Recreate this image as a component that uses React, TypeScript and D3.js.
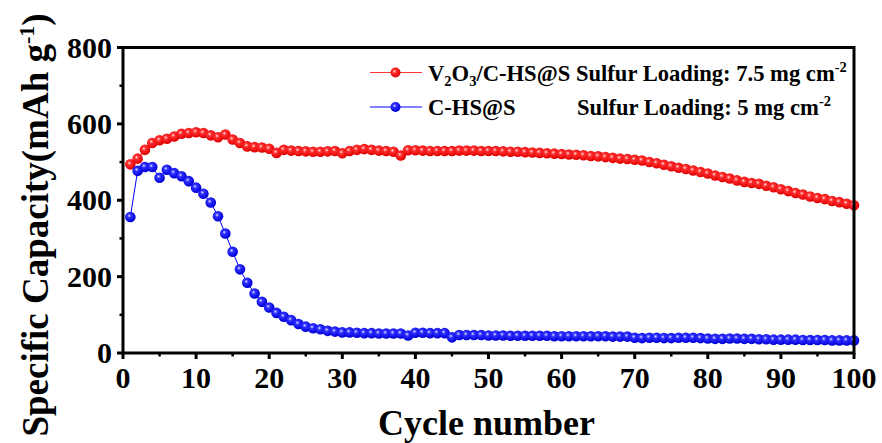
import React from 'react';
import * as d3 from 'd3';

const cycles = d3.range(1, 101);

const v2o3Capacity = [
  494, 509, 532, 550, 557, 561, 567, 574, 576, 578,
  576, 570, 565, 572, 559, 550, 541, 539, 538, 535,
  524, 532, 530, 529, 528, 527, 527, 528, 529, 523,
  529, 532, 534, 532, 530, 529, 527, 517, 531, 531,
  530, 529, 529, 529, 529, 530, 530, 530, 529, 529,
  529, 528, 527, 527, 526, 525, 524, 523, 522, 521,
  520, 519, 518, 516, 515, 513, 511, 509, 508, 506,
  504, 500, 497, 493, 489, 485, 482, 478, 474, 470,
  465, 461, 457, 452, 448, 445, 443, 438, 434, 429,
  424, 419, 415, 410, 406, 403, 398, 395, 391, 387,
];

const chsCapacity = [
  356, 477, 487, 487, 459, 480, 471, 463, 450, 433,
  417, 394, 358, 313, 265, 219, 184, 156, 134, 119,
  105, 95, 86, 76, 69, 65, 62, 58, 56, 54,
  54, 53, 52, 52, 51, 51, 51, 51, 46, 53,
  53, 52, 52, 52, 41, 47, 47, 47, 47, 46,
  46, 46, 45, 45, 45, 45, 45, 45, 44, 44,
  44, 44, 44, 44, 44, 44, 43, 43, 43, 40,
  39, 40, 40, 39, 39, 40, 40, 40, 39, 38,
  37, 37, 38, 38, 37, 37, 36, 36, 35, 35,
  35, 35, 34, 34, 34, 34, 33, 33, 33, 33,
];

const xTicks = [0, 10, 20, 30, 40, 50, 60, 70, 80, 90, 100];
const xMinor = [5, 15, 25, 35, 45, 55, 65, 75, 85, 95];
const yTicks = [0, 200, 400, 600, 800];
const yMinor = [100, 300, 500, 700];

const font = '"Liberation Serif", "Times New Roman", serif';

const App: React.FC = () => {
  const width = 882;
  const height = 443;
  const left = 123;
  const right = 854;
  const top = 47.5;
  const bottom = 353;

  const x = d3.scaleLinear().domain([0, 100]).range([left, right]);
  const y = d3.scaleLinear().domain([0, 800]).range([bottom, top]);

  const line = d3
    .line<number>()
    .x((_, i) => x(cycles[i]))
    .y((d) => y(d));

  const series = [
    { name: 'red', values: v2o3Capacity, color: '#ff0000', grad: 'url(#ballRed)' },
    { name: 'blue', values: chsCapacity, color: '#0000ff', grad: 'url(#ballBlue)' },
  ];

  return (
    <svg
      width={width}
      height={height}
      style={{ position: 'absolute', left: 0, top: 0, background: '#fff' }}
      fontFamily={font}
      fontWeight="bold"
    >
      <defs>
        <radialGradient id="ballRed" cx="40%" cy="38%" r="60%">
          <stop offset="0%" stopColor="#ffe0e0" />
          <stop offset="30%" stopColor="#ff3030" />
          <stop offset="100%" stopColor="#e00000" />
        </radialGradient>
        <radialGradient id="ballBlue" cx="40%" cy="38%" r="60%">
          <stop offset="0%" stopColor="#e0e0ff" />
          <stop offset="30%" stopColor="#3030ff" />
          <stop offset="100%" stopColor="#0000d8" />
        </radialGradient>
      </defs>

      {/* ticks */}
      {xTicks.map((t) => (
        <g key={'xt' + t}>
          <line x1={x(t)} x2={x(t)} y1={bottom} y2={bottom + 6} stroke="#000" strokeWidth={3} />
          <text x={x(t)} y={388} fontSize={30} textAnchor="middle">
            {t}
          </text>
        </g>
      ))}
      {xMinor.map((t) => (
        <line key={'xm' + t} x1={x(t)} x2={x(t)} y1={bottom} y2={bottom + 3.5} stroke="#000" strokeWidth={2.5} />
      ))}
      {yTicks.map((t) => (
        <g key={'yt' + t}>
          <line x1={left - 6} x2={left} y1={y(t)} y2={y(t)} stroke="#000" strokeWidth={3} />
          <text x={112} y={y(t) + 10} fontSize={30} textAnchor="end">
            {t}
          </text>
        </g>
      ))}
      {yMinor.map((t) => (
        <line key={'ym' + t} x1={left - 3.5} x2={left} y1={y(t)} y2={y(t)} stroke="#000" strokeWidth={2.5} />
      ))}

      {/* series */}
      {series.map((s) => (
        <g key={s.name}>
          <path d={line(s.values) || ''} fill="none" stroke={s.color} strokeWidth={1} />
          {s.values.map((v, i) => (
            <circle key={i} cx={x(cycles[i])} cy={y(v)} r={5.3} fill={s.grad} />
          ))}
        </g>
      ))}

      {/* frame */}
      <rect x={left} y={top} width={right - left} height={bottom - top} fill="none" stroke="#000" strokeWidth={3} />

      {/* legend */}
      <line x1={370} x2={422} y1={72.5} y2={72.5} stroke="#ff3333" strokeWidth={1.2} />
      <circle cx={395.5} cy={72.5} r={5} fill="url(#ballRed)" />
      <line x1={370} x2={422} y1={107} y2={107} stroke="#0000ff" strokeWidth={1.2} />
      <circle cx={395.5} cy={107} r={5} fill="url(#ballBlue)" />
      <text x={428} y={81} fontSize={22.6}>
        V<tspan fontSize={14.5} dy={5}>2</tspan>
        <tspan dy={-5}>O</tspan>
        <tspan fontSize={14.5} dy={5}>3</tspan>
        <tspan dy={-5}>/C-HS@S Sulfur Loading: 7.5 mg cm</tspan>
        <tspan fontSize={14.5} dy={-9}>-2</tspan>
      </text>
      <text x={428} y={115} fontSize={22.6}>
        C-HS@S
      </text>
      <text x={577} y={115} fontSize={22.6}>
        Sulfur Loading: 5 mg cm<tspan fontSize={14.5} dy={-9}>-2</tspan>
      </text>

      {/* axis titles */}
      <text x={486.5} y={435} fontSize={36} textAnchor="middle">
        Cycle number
      </text>
      <text transform="translate(48,225) rotate(-90)" fontSize={37} textAnchor="middle">
        Specific Capacity(mAh g<tspan fontSize={22} dy={-14}>-1</tspan>
        <tspan dy={14}>)</tspan>
      </text>
    </svg>
  );
};

export default App;
